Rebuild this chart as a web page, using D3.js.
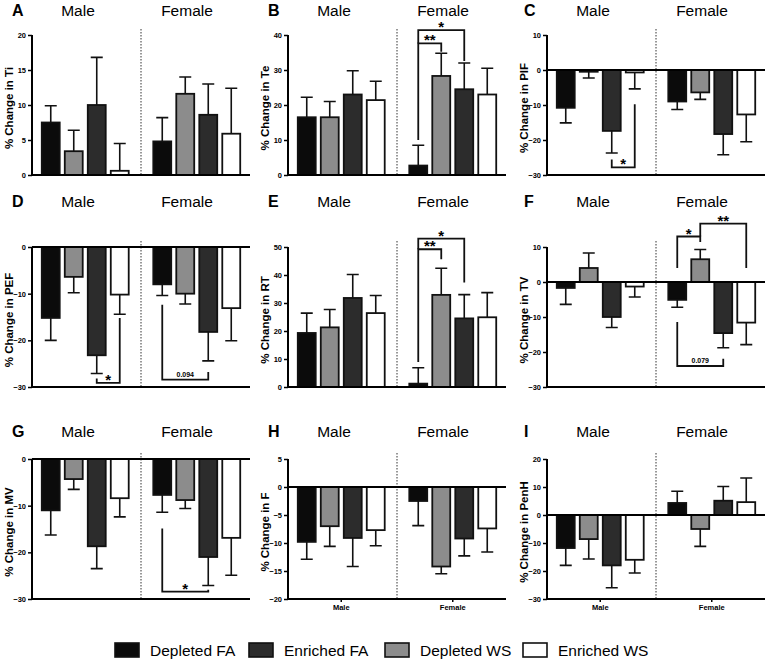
<!DOCTYPE html>
<html>
<head>
<meta charset="utf-8">
<script src="https://cdn.jsdelivr.net/npm/d3@7"></script>
<style>
  body { margin: 0; background: #fff; }
  text { font-family: "Liberation Sans", Arial, sans-serif; }
</style>
</head>
<body>
<div id="container"></div>
<script>
// groups and treatments (bar order inside each group)
const groups = ["Male", "Female"];
const treatments = ["Depleted FA", "Depleted WS", "Enriched FA", "Enriched WS"];
const fills = ["#0b0b0b", "#8c8c8c", "#2c2c2c", "#ffffff"];
const legendOrder = ["Depleted FA", "Enriched FA", "Depleted WS", "Enriched WS"];

// means [male, female] and error sizes, one pair per panel
const tiMean = [[7.5, 3.4, 10.0, 0.6], [4.8, 11.6, 8.6, 5.9]];
const tiErr = [[2.4, 3.0, 6.8, 3.9], [3.4, 2.4, 4.4, 6.5]];
const teMean = [[16.5, 16.5, 23.0, 21.4], [2.7, 28.3, 24.5, 23.0]];
const teErr = [[5.7, 4.5, 6.8, 5.4], [5.8, 6.5, 7.5, 7.5]];
const pifMean = [[-10.8, -0.5, -17.4, -0.7], [-9.0, -6.4, -18.3, -12.7]];
const pifErr = [[4.3, 1.8, 6.3, 4.7], [2.3, 2.0, 5.9, 7.8]];
const pefMean = [[-15.2, -6.4, -23.2, -10.2], [-8.0, -10.0, -18.2, -13.1]];
const pefErr = [[4.8, 3.4, 3.9, 4.2], [2.4, 2.2, 6.2, 7.0]];
const rtMean = [[19.3, 21.3, 31.8, 26.4], [1.2, 32.9, 24.5, 24.9]];
const rtErr = [[7.1, 6.4, 8.4, 6.3], [5.7, 9.5, 8.5, 8.8]];
const tvMean = [[-1.7, 4.0, -10.0, -1.3], [-5.1, 6.5, -14.6, -11.6]];
const tvErr = [[4.7, 4.3, 3.0, 3.0], [2.1, 2.8, 4.2, 6.3]];
const mvMean = [[-11.0, -4.3, -18.7, -8.4], [-7.7, -8.8, -21.0, -16.9]];
const mvErr = [[5.3, 2.2, 4.8, 4.0], [3.7, 1.8, 6.1, 8.0]];
const fMean = [[-9.8, -7.0, -9.1, -7.7], [-2.5, -14.2, -9.2, -7.4]];
const fErr = [[3.1, 3.6, 5.1, 2.8], [4.4, 1.3, 3.1, 4.2]];
const penhMean = [[-11.8, -8.6, -18.0, -16.0], [4.3, -5.0, 5.1, 4.6]];
const penhErr = [[6.2, 7.1, 8.0, 4.7], [4.2, 6.2, 5.1, 8.6]];

// significance brackets: group, bar a, bar b, y at a, y of the bar, y at b, label
const teSig = [["Female", 0, 1, 10.0, 37.6, 35.2, "**"], ["Female", 0, 2, 37.6, 41.4, 32.6, "*"]];
const pifSig = [["Male", 2, 3, -25.6, -27.8, -9.8, "*"]];
const pefSig = [["Male", 2, 3, -28.2, -29.1, -15.2, "*"], ["Female", 0, 2, -12.4, -28.4, -26.8, "0.094"]];
const rtSig = [["Female", 0, 1, 8.9, 49.2, 45.6, "**"], ["Female", 0, 2, 49.2, 53.0, 37.3, "*"]];
const tvSig = [["Female", 0, 1, 4.0, 13.0, 11.4, "*"], ["Female", 1, 3, 13.0, 16.7, 4.0, "**"], ["Female", 0, 2, -11.4, -24.0, -21.9, "0.079"]];
const mvSig = [["Female", 0, 2, -14.9, -28.4, -28.0, "*"]];

const panels = [
  {letter: "A", label: "% Change in Ti", dom: [0, 20], step: 5, mean: tiMean, err: tiErr, sig: []},
  {letter: "B", label: "% Change in Te", dom: [0, 40], step: 10, mean: teMean, err: teErr, sig: teSig},
  {letter: "C", label: "% Change in PIF", dom: [-30, 10], step: 10, mean: pifMean, err: pifErr, sig: pifSig},
  {letter: "D", label: "% Change in PEF", dom: [-30, 0], step: 10, mean: pefMean, err: pefErr, sig: pefSig},
  {letter: "E", label: "% Change in RT", dom: [0, 50], step: 10, mean: rtMean, err: rtErr, sig: rtSig},
  {letter: "F", label: "% Change in TV", dom: [-30, 10], step: 10, mean: tvMean, err: tvErr, sig: tvSig},
  {letter: "G", label: "% Change in MV", dom: [-30, 0], step: 10, mean: mvMean, err: mvErr, sig: mvSig},
  {letter: "H", label: "% Change in F", dom: [-20, 5], step: 5, mean: fMean, err: fErr, sig: [], xlab: true},
  {letter: "I", label: "% Change in PenH", dom: [-30, 20], step: 10, mean: penhMean, err: penhErr, sig: [], xlab: true}
];

let w = 768, h = 661;
let cols = [{off: 0, x0: 32, x1: 250}, {off: 256, x0: 288, x1: 506}, {off: 512, x0: 547, x1: 764}];
let rows = [{top: 35, bot: 175, ty: 16}, {top: 247, bot: 387, ty: 207}, {top: 459, bot: 599, ty: 437}];

let svg = d3.select("#container").append("svg")
  .attr("width", w).attr("height", h)
  .style("background-color", "white");

panels.forEach(function(p, i) {
  let c = cols[i % 3], r = rows[Math.floor(i / 3)];
  let g = svg.append("g");

  let x = d3.scaleBand().domain(groups).range([c.x0, c.x0 + 218])
    .paddingInner(0.175).paddingOuter(0.065);
  let xi = d3.scaleBand().domain(d3.range(4)).range([0, x.bandwidth()])
    .paddingInner(0.22).paddingOuter(0.11);
  let y = d3.scaleLinear().domain(p.dom).range([r.bot, r.top]);
  let cx = (gr, k) => x(gr) + xi(k) + xi.bandwidth() / 2;

  // titles
  g.append("text").attr("x", c.off + 12).attr("y", r.ty)
    .attr("font-size", 16).attr("font-weight", "bold").text(p.letter);
  g.append("text").attr("x", c.x0 + 46).attr("y", r.ty).attr("text-anchor", "middle")
    .attr("font-size", 15.5).text("Male");
  g.append("text").attr("x", c.x0 + 155).attr("y", r.ty).attr("text-anchor", "middle")
    .attr("font-size", 15.5).text("Female");

  // y label
  g.append("text")
    .attr("transform", "translate(" + (c.x0 - 23) + "," + ((r.top + r.bot) / 2 + 3) + ") rotate(-90)")
    .attr("text-anchor", "middle").attr("dy", "0.35em")
    .attr("font-size", 11.5).attr("font-weight", "bold").text(p.label);

  // separator
  let sepX = (x("Male") + x.bandwidth() + x("Female")) / 2;
  g.append("line").attr("x1", sepX).attr("x2", sepX)
    .attr("y1", r.top - 6).attr("y2", r.bot)
    .attr("stroke", "#333").attr("stroke-width", 1).attr("stroke-dasharray", "1.5,1.5");

  let data = [];
  groups.forEach(function(gr, gi) {
    treatments.forEach(function(t, k) {
      data.push({gr: gr, k: k, v: p.mean[gi][k], e: p.err[gi][k]});
    });
  });

  // error bars
  g.selectAll(".eb").data(data).enter().append("path")
    .attr("d", function(d) {
      let top = d.v + (d.v >= 0 ? d.e : -d.e);
      let xc = cx(d.gr, d.k);
      return "M" + xc + "," + y(d.v) + "V" + y(top) + "M" + (xc - 6) + "," + y(top) + "H" + (xc + 6);
    })
    .attr("stroke", "#111").attr("stroke-width", 1.6).attr("fill", "none");

  // bars
  g.selectAll(".bar").data(data).enter().append("rect")
    .attr("x", d => x(d.gr) + xi(d.k))
    .attr("width", xi.bandwidth())
    .attr("y", d => y(Math.max(0, d.v)))
    .attr("height", d => Math.abs(y(d.v) - y(0)))
    .attr("fill", d => fills[d.k])
    .attr("stroke", "#111").attr("stroke-width", 1.8);

  // axes
  let ya = d3.axisLeft(y).tickValues(d3.range(p.dom[0], p.dom[1] + p.step / 2, p.step)).tickSize(4).tickPadding(2);
  let ag = g.append("g").attr("transform", "translate(" + c.x0 + ",0)").call(ya);
  ag.select(".domain").attr("stroke-width", 2).attr("d", "M0," + r.bot + "V" + r.top);
  ag.selectAll(".tick line").attr("stroke-width", 1.5);
  ag.selectAll(".tick text").attr("font-size", 7.5).attr("font-weight", "bold")
    .attr("font-family", "'Liberation Sans', Arial, sans-serif");

  g.append("line").attr("x1", c.x0).attr("x2", c.x0 + 218)
    .attr("y1", y(0)).attr("y2", y(0)).attr("stroke", "#000").attr("stroke-width", 2);
  if (p.dom[0] < 0) {
    g.append("line").attr("x1", c.x0).attr("x2", c.x0 + 218)
      .attr("y1", r.bot).attr("y2", r.bot).attr("stroke", "#000").attr("stroke-width", 2);
  }

  if (p.xlab) {
    let xa = d3.axisBottom(x).tickSize(3).tickPadding(3);
    let xg = g.append("g").attr("transform", "translate(0," + r.bot + ")").call(xa);
    xg.select(".domain").remove();
    xg.selectAll(".tick line").attr("stroke-width", 1.5);
    xg.selectAll(".tick text").attr("font-size", 7.5).attr("font-weight", "bold")
      .attr("font-family", "'Liberation Sans', Arial, sans-serif");
  }

  // significance brackets
  p.sig.forEach(function(s) {
    let xa = cx(s[0], s[1]), xb = cx(s[0], s[2]);
    g.append("path")
      .attr("d", "M" + xa + "," + y(s[3]) + "V" + y(s[4]) + "H" + xb + "V" + y(s[5]))
      .attr("fill", "none").attr("stroke", "#111").attr("stroke-width", 1.8);
    let star = s[6].indexOf("*") >= 0;
    g.append("text").attr("x", (xa + xb) / 2)
      .attr("y", y(s[4]) + (star ? 2 : -3))
      .attr("text-anchor", "middle").attr("font-weight", "bold")
      .attr("font-size", star ? 15 : 7).text(s[6]);
  });
});

// legend
let legX = [115, 249, 385, 523];
legendOrder.forEach(function(t, i) {
  let k = treatments.indexOf(t);
  svg.append("rect").attr("x", legX[i]).attr("y", 643).attr("width", 24).attr("height", 14)
    .attr("fill", fills[k]).attr("stroke", "#111").attr("stroke-width", 1.6);
  svg.append("text").attr("x", legX[i] + 35).attr("y", 656)
    .attr("font-size", 15.5).text(t);
});
</script>
</body>
</html>
